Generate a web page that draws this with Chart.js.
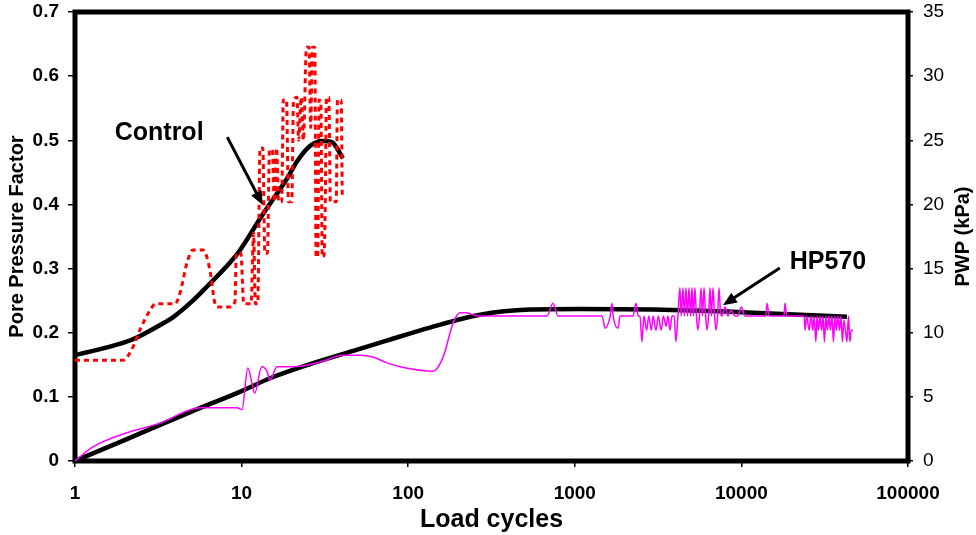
<!DOCTYPE html>
<html>
<head>
<meta charset="utf-8">
<script src="https://cdn.jsdelivr.net/npm/chart.js@4/dist/chart.umd.min.js"></script>
<style>
  body { margin: 0; background: #fff; }
  #chart { display: block; }
</style>
</head>
<body>
<canvas id="chart" width="976" height="535"></canvas>
<script>
// x ticks (log), y ticks
const xTicks = [1, 10, 100, 1000, 10000, 100000];

// Control - measured (red dotted)
const controlCycles = [1, 1.94, 2.23, 2.45, 2.82, 3.05, 3.98, 4.27, 4.7, 5.11, 5.87, 6.45, 6.93, 7.21, 8.27, 9.12,
  9.3, 9.9, 10.3, 11.4, 11.8, 12.1, 12.5, 12.9, 13.4, 13.8, 14.3, 14.7, 15.3, 15.7, 16.2, 16.7, 17.4,
  17.8, 18.6, 19.1, 20.0, 20.5, 21.5, 22.0, 22.8, 23.5, 24.5, 25.4, 26.0, 26.6, 27.5, 28.0, 28.6,
  29.2, 29.9, 30.5, 31.2, 31.8, 32.3, 33.4, 34.1, 37.0, 37.6, 39.6, 40.2];
const controlPPF = [0.157, 0.157, 0.178, 0.204, 0.235, 0.245, 0.245, 0.262, 0.309, 0.329, 0.329, 0.298, 0.245, 0.24, 0.24, 0.248,
  0.324, 0.324, 0.245, 0.245, 0.355, 0.245, 0.245, 0.488, 0.488, 0.324, 0.324, 0.485, 0.485, 0.404, 0.488, 0.404, 0.404,
  0.563, 0.563, 0.404, 0.404, 0.563, 0.567, 0.50, 0.567, 0.50, 0.645, 0.645, 0.52, 0.645, 0.645, 0.318, 0.318,
  0.563, 0.56, 0.318, 0.32, 0.404, 0.567, 0.567, 0.404, 0.404, 0.563, 0.563, 0.41];

// Control - trend (black)
const controlTrendCycles = [1, 1.94, 2.46, 3.24, 3.87, 5, 6.2, 8.5, 9.8, 13.2, 18.7, 21.5, 25.7, 30.4, 34.8, 40.6];
const controlTrendPPF = [0.165, 0.184, 0.195, 0.212, 0.224, 0.248, 0.272, 0.309, 0.329, 0.382, 0.44, 0.467, 0.491, 0.499, 0.497, 0.472];

// HP570 - measured (magenta)
const hpCycles = [1, 1.28, 2.05, 3.24, 5.63, 9.38, 10.05, 10.9, 12.0, 13.2, 14.2, 14.8, 16.3, 20.3, 29.5, 40.6, 51.4, 61.5, 74.6,
  89.3, 141, 162, 186, 205, 225, 259, 681, 740, 793, 1456, 1520, 1630, 1671, 1700, 1816, 1870, 2235, 2330, 2400,
  2462, 2530, 2600, 2700, 2780, 2880, 2950, 3070, 3170, 3300, 3400, 3530, 3620, 3730, 3830, 3950, 4046, 4160,
  4277, 4350, 4458, 4550, 4646, 4750, 4842, 4950, 5047, 5150, 5260, 5370, 5482, 5600, 5723, 5840, 5965, 6100,
  6218, 6350, 6482, 6600, 6755, 6900, 7042, 7200, 7339, 7500, 7650, 7973, 8310, 8663, 9156, 9500, 10000, 10500,
  14000, 14260, 14700, 18000, 18280, 18700, 23800, 24100, 24700, 25500, 26180, 26800, 27290, 28000, 28440, 29000,
  29640, 30300, 30890, 31500, 32190, 32800, 33550, 34200, 34970, 35700, 36450, 37200, 37990, 38800, 39590, 40400,
  41260, 42100, 43000, 43900, 44820, 45700, 46710];
const hpPPF = [0, 0.022, 0.044, 0.059, 0.083, 0.083, 0.080, 0.145, 0.106, 0.147, 0.14, 0.126, 0.147, 0.147, 0.154, 0.165, 0.165, 0.162, 0.153,
  0.147, 0.140, 0.162, 0.215, 0.231, 0.231, 0.226, 0.226, 0.246, 0.226, 0.226, 0.207, 0.226, 0.246, 0.226, 0.207, 0.226, 0.226, 0.246, 0.226,
  0.226, 0.186, 0.226, 0.204, 0.226, 0.204, 0.226, 0.204, 0.226, 0.204, 0.226, 0.21, 0.226, 0.204, 0.226, 0.226, 0.186, 0.226,
  0.27, 0.226, 0.27, 0.226, 0.27, 0.226, 0.27, 0.226, 0.27, 0.226, 0.27, 0.226, 0.204, 0.226, 0.27, 0.226, 0.27, 0.226,
  0.204, 0.226, 0.27, 0.226, 0.27, 0.226, 0.204, 0.226, 0.27, 0.23, 0.226, 0.24, 0.226, 0.235, 0.226, 0.226, 0.24, 0.226,
  0.226, 0.246, 0.226, 0.226, 0.246, 0.226, 0.226, 0.204, 0.226, 0.204, 0.226, 0.204, 0.226, 0.186, 0.226, 0.204,
  0.226, 0.204, 0.226, 0.186, 0.226, 0.204, 0.226, 0.204, 0.226, 0.186, 0.226, 0.204, 0.226, 0.204, 0.226, 0.186,
  0.22, 0.204, 0.186, 0.226, 0.186, 0.204, 0.204];

// HP570 - trend (black)
const hpTrendCycles = [1, 2, 5, 10, 14.8, 25, 50, 75, 135, 270, 538, 1075, 3000, 10000, 43000];
const hpTrendPPF = [0, 0.033, 0.077, 0.109, 0.129, 0.150, 0.174, 0.188, 0.208, 0.228, 0.236, 0.237, 0.236, 0.232, 0.225];

// annotation anchors (data coords)
const controlNote = { text: "Control", x: 3.2, y: 0.511, from: [8.2, 0.505], to: [13.4, 0.399] };
const hpNote = { text: "HP570", x: 33100, y: 0.31, from: [17000, 0.301], to: [7750, 0.243] };

const zip = (xs, ys) => xs.map((x, i) => ({ x: x, y: ys[i] }));

const frameAndNotes = {
  id: "frameAndNotes",
  beforeDatasetsDraw(chart) {
    const { ctx, chartArea } = chart;
    ctx.save();
    ctx.strokeStyle = "#000";
    ctx.lineWidth = 5;
    ctx.strokeRect(chartArea.left, chartArea.top, chartArea.right - chartArea.left, chartArea.bottom - chartArea.top);
    ctx.restore();
  },
  afterDraw(chart) {
    const { ctx, chartArea, scales } = chart;
    const xs = scales.x, ys = scales.y;

    // right axis title, reading bottom to top
    ctx.save();
    ctx.font = "bold 20px 'Liberation Sans', Arial, sans-serif";
    ctx.fillStyle = "#000";
    ctx.textAlign = "center";
    ctx.textBaseline = "middle";
    ctx.translate(963, (chartArea.top + chartArea.bottom) / 2);
    ctx.rotate(-Math.PI / 2);
    ctx.fillText("PWP (kPa)", 0, 0);
    ctx.restore();

    [controlNote, hpNote].forEach((note) => {
      ctx.save();
      ctx.font = "bold 25px 'Liberation Sans', Arial, sans-serif";
      ctx.fillStyle = "#000";
      ctx.textAlign = "center";
      ctx.textBaseline = "middle";
      ctx.fillText(note.text, xs.getPixelForValue(note.x), ys.getPixelForValue(note.y));

      const x1 = xs.getPixelForValue(note.from[0]), y1 = ys.getPixelForValue(note.from[1]);
      const x2 = xs.getPixelForValue(note.to[0]), y2 = ys.getPixelForValue(note.to[1]);
      const ang = Math.atan2(y2 - y1, x2 - x1);
      const head = 15;
      ctx.strokeStyle = "#000";
      ctx.lineWidth = 3;
      ctx.beginPath();
      ctx.moveTo(x1, y1);
      ctx.lineTo(x2 - Math.cos(ang) * head * 0.8, y2 - Math.sin(ang) * head * 0.8);
      ctx.stroke();
      ctx.beginPath();
      ctx.moveTo(x2, y2);
      ctx.lineTo(x2 - head * Math.cos(ang - 0.4), y2 - head * Math.sin(ang - 0.4));
      ctx.lineTo(x2 - head * Math.cos(ang + 0.4), y2 - head * Math.sin(ang + 0.4));
      ctx.closePath();
      ctx.fill();
      ctx.restore();
    });
  },
};

const tickFont = { family: "'Liberation Sans', Arial, sans-serif", size: 19, weight: "bold" };

// keep the plot box fixed: no extra room for half tick labels
const fixWidth = (w) => (scale) => {
  scale.width = w;
  scale.paddingTop = 0;
  scale.paddingBottom = 0;
};

new Chart(document.getElementById("chart"), {
  type: "line",
  data: {
    datasets: [
      {
        label: "Control",
        data: zip(controlCycles, controlPPF),
        borderColor: "#ff0000",
        borderWidth: 3,
        borderDash: [5, 4],
        pointRadius: 0,
        cubicInterpolationMode: "monotone",
      },
      {
        label: "HP570",
        data: zip(hpCycles, hpPPF),
        borderColor: "#ff00ff",
        borderWidth: 1.5,
        pointRadius: 0,
        cubicInterpolationMode: "monotone",
      },
      {
        label: "Control trend",
        data: zip(controlTrendCycles, controlTrendPPF),
        borderColor: "#000",
        borderWidth: 4.5,
        pointRadius: 0,
        cubicInterpolationMode: "monotone",
      },
      {
        label: "HP570 trend",
        data: zip(hpTrendCycles, hpTrendPPF),
        borderColor: "#000",
        borderWidth: 4.5,
        pointRadius: 0,
        cubicInterpolationMode: "monotone",
      },
    ],
  },
  options: {
    responsive: false,
    animation: false,
    layout: { padding: { top: 12, left: 0, right: 0, bottom: 0 } },
    plugins: { legend: { display: false }, tooltip: { enabled: false } },
    scales: {
      x: {
        type: "logarithmic",
        min: 1,
        max: 100000,
        afterBuildTicks: (scale) => {
          scale.ticks = xTicks.map((v) => ({ value: v }));
        },
        afterFit: (scale) => {
          scale.height = 74;
          scale.paddingLeft = 0;
          scale.paddingRight = 0;
        },
        ticks: {
          callback: (v) => String(v),
          autoSkip: false,
          maxRotation: 0,
          font: tickFont,
          color: "#000",
          padding: 15,
        },
        grid: { drawOnChartArea: false, color: "#000", lineWidth: 1.5, tickLength: 6 },
        border: { display: false },
        title: {
          display: true,
          text: "Load cycles",
          color: "#000",
          font: { family: "'Liberation Sans', Arial, sans-serif", size: 25, weight: "bold" },
          padding: { top: 0, bottom: 0 },
        },
      },
      y: {
        position: "left",
        min: 0,
        max: 0.7,
        afterFit: fixWidth(75),
        ticks: { stepSize: 0.1, font: tickFont, color: "#000", padding: 9 },
        grid: { drawOnChartArea: false, color: "#000", lineWidth: 1.5, tickLength: 7 },
        border: { display: false },
        title: {
          display: true,
          text: "Pore Pressure Factor",
          color: "#000",
          font: { family: "'Liberation Sans', Arial, sans-serif", size: 20, weight: "bold" },
          padding: { top: 5, bottom: 0 },
        },
      },
      y2: {
        position: "right",
        min: 0,
        max: 35,
        afterFit: fixWidth(68),
        ticks: {
          stepSize: 5,
          font: { family: "'Liberation Sans', Arial, sans-serif", size: 19 },
          color: "#000",
          padding: 10,
        },
        grid: { drawOnChartArea: false, color: "#000", lineWidth: 1.5, tickLength: 5 },
        border: { display: false },
      },
    },
  },
  plugins: [frameAndNotes],
});
</script>
</body>
</html>
